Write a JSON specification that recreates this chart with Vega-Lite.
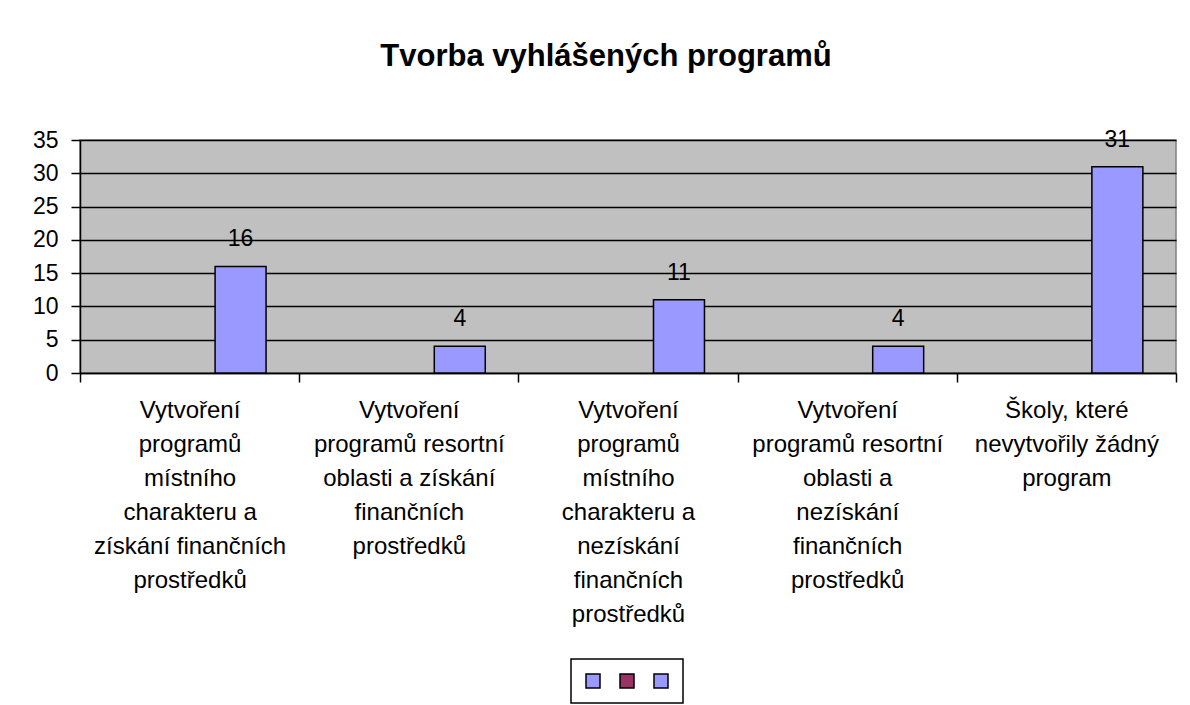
{
  "$schema": "https://vega.github.io/schema/vega-lite/v6.json",
  "width": 1096,
  "height": 233,
  "autosize": {"type": "none"},
  "padding": {"left": 80, "top": 140, "right": 14, "bottom": 332},
  "background": "white",
  "title": {
    "text": "Tvorba vyhlášených programů",
    "font": "Liberation Sans",
    "fontSize": 31,
    "fontWeight": "bold",
    "color": "black",
    "anchor": "middle",
    "frame": "group",
    "dx": -22,
    "offset": 56
  },
  "data": {
    "values": [
      {"kategorie": "Vytvoření|programů|místního|charakteru a|získání finančních|prostředků", "rada": "c", "pocet": 16},
      {"kategorie": "Vytvoření|programů resortní|oblasti a získání|finančních|prostředků", "rada": "c", "pocet": 4},
      {"kategorie": "Vytvoření|programů|místního|charakteru a|nezískání|finančních|prostředků", "rada": "c", "pocet": 11},
      {"kategorie": "Vytvoření|programů  resortní|oblasti a|nezískání|finančních|prostředků", "rada": "c", "pocet": 4},
      {"kategorie": "Školy, které|nevytvořily žádný|program", "rada": "c", "pocet": 31}
    ]
  },
  "encoding": {
    "x": {
      "field": "kategorie",
      "type": "nominal",
      "sort": null,
      "scale": {"paddingInner": 0, "paddingOuter": 0},
      "axis": {
        "title": null,
        "labelExpr": "split(datum.label, '|')",
        "labelAngle": 0,
        "labelBaseline": "top",
        "labelLineHeight": 34,
        "labelFontSize": 24,
        "labelFont": "Liberation Sans",
        "labelColor": "black",
        "labelLimit": 0,
        "labelOverlap": false,
        "labelPadding": 16,
        "tickBand": "extent",
        "tickSize": 9,
        "tickColor": "black",
        "tickWidth": 1.5,
        "domainColor": "black",
        "domainWidth": 1.5,
        "grid": false
      }
    },
    "xOffset": {
      "field": "rada",
      "type": "nominal",
      "scale": {"domain": ["a", "b", "c"], "paddingInner": 0, "paddingOuter": 0.65}
    },
    "y": {
      "field": "pocet",
      "type": "quantitative",
      "scale": {"domain": [0, 35], "nice": false},
      "axis": {
        "title": null,
        "values": [0, 5, 10, 15, 20, 25, 30, 35],
        "labelFontSize": 23,
        "labelFont": "Liberation Sans",
        "labelColor": "black",
        "labelPadding": 13,
        "tickSize": 9,
        "tickColor": "black",
        "tickWidth": 1.5,
        "domainColor": "black",
        "domainWidth": 1.5,
        "grid": true,
        "gridColor": "black",
        "gridWidth": 1.5,
        "gridOpacity": 1
      }
    }
  },
  "layer": [
    {
      "mark": {"type": "bar", "stroke": "black", "strokeWidth": 1.5},
      "encoding": {
        "color": {
          "field": "rada",
          "type": "nominal",
          "scale": {"domain": ["a", "b", "c"], "range": ["#9999FF", "#993366", "#9999FF"]},
          "legend": {
            "title": null,
            "orient": "none",
            "direction": "horizontal",
            "legendX": 491,
            "legendY": 519,
            "labelExpr": "''",
            "labelFontSize": 20,
            "labelOffset": 0,
            "columnPadding": 14,
            "symbolType": "square",
            "symbolSize": 196,
            "symbolStrokeColor": "black",
            "symbolStrokeWidth": 1.5,
            "symbolOpacity": 1,
            "fillColor": "white",
            "strokeColor": "black",
            "padding": 12,
            "encode": {"legend": {"update": {"strokeWidth": {"value": 1.5}}}}
          }
        }
      }
    },
    {
      "mark": {"type": "text", "fontSize": 23, "font": "Liberation Sans", "color": "black", "baseline": "alphabetic", "dy": -20},
      "encoding": {"text": {"field": "pocet", "type": "quantitative"}}
    }
  ],
  "config": {
    "view": {"fill": "#C0C0C0", "stroke": "#808080", "strokeWidth": 1.5}
  }
}
